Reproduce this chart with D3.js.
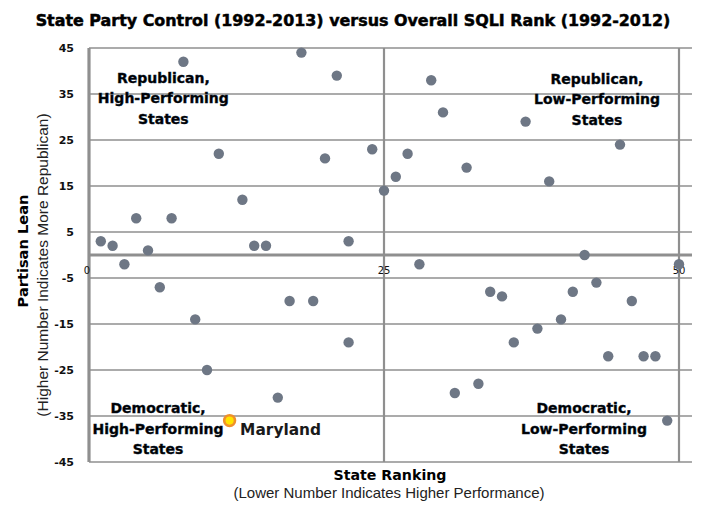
<!DOCTYPE html>
<html>
<head>
<meta charset="utf-8">
<script src="https://cdn.jsdelivr.net/npm/d3@7/dist/d3.min.js"></script>
<style>
  html, body { margin: 0; padding: 0; background: #fff; }
  svg { display: block; }
</style>
</head>
<body>
<svg id="chart" width="707" height="513"></svg>
<script>
// ---- Data ----
const ranks = [1,2,3,4,5,6,7,8,9,10,11,12,13,14,15,16,17,18,19,20,21,22,22,24,25,26,27,28,29,30,31,32,33,34,35,36,37,38,39,40,41,42,43,44,45,46,47,48,49,50];
const leans = [3,2,-2,8,1,-7,8,42,-14,-25,22,-36,12,2,2,-31,-10,44,-10,21,39,3,-19,23,14,17,22,-2,38,31,-30,19,-28,-8,-9,-19,29,-16,16,-14,-8,0,-6,-22,24,-10,-22,-22,-36,-2];
const highlightRank = 12;
const highlightLabel = "Maryland";
const yTicks = [45,35,25,15,5,-5,-15,-25,-35,-45];
const xTicks = [0,25,50];
const quadrantLabels = [
  { x: 6.3, y: 38.5, lines: ["Republican,", "High-Performing", "States"] },
  { x: 43.05, y: 38.3, lines: ["Republican,", "Low-Performing", "States"] },
  { x: 5.85, y: -33.3, lines: ["Democratic,", "High-Performing", "States"] },
  { x: 41.95, y: -33.3, lines: ["Democratic,", "Low-Performing", "States"] }
];
const title = "State Party Control (1992-2013) versus Overall SQLI Rank (1992-2012)";
const xTitle = "State Ranking";
const xSubtitle = "(Lower Number Indicates Higher Performance)";
const yTitle = "Partisan Lean";
const ySubtitle = "(Higher Number Indicates More Republican)";

// ---- Layout ----
const svg = d3.select("#chart");
const x = d3.scaleLinear().domain([0, 50]).range([89, 679]);
const y = d3.scaleLinear().domain([-45, 45]).range([462, 48]);
const gridRight = x(51.1);
const gridColor = "#8f8f8f";

const boldFont = "'DejaVu Sans', Verdana, sans-serif";
const regFont = "'Liberation Sans', Arial, sans-serif";

// horizontal gridlines
svg.append("g").selectAll("line").data(yTicks).join("line")
  .attr("x1", x(0)).attr("x2", gridRight)
  .attr("y1", d => y(d)).attr("y2", d => y(d))
  .attr("stroke", gridColor).attr("stroke-width", 1.3);

// vertical lines at 25 and 50
svg.append("g").selectAll("line").data([25, 50]).join("line")
  .attr("x1", d => x(d)).attr("x2", d => x(d))
  .attr("y1", y(45)).attr("y2", y(-45))
  .attr("stroke", gridColor).attr("stroke-width", 2.2);

// main axes lines
svg.append("line")
  .attr("x1", x(0)).attr("x2", x(0)).attr("y1", y(45)).attr("y2", y(-45))
  .attr("stroke", gridColor).attr("stroke-width", 3.2);
svg.append("line")
  .attr("x1", x(0)).attr("x2", gridRight).attr("y1", y(0)).attr("y2", y(0))
  .attr("stroke", gridColor).attr("stroke-width", 3.2);

// y tick labels
svg.append("g").selectAll("text").data(yTicks).join("text")
  .attr("x", x(0) - 15).attr("y", d => y(d))
  .attr("dy", "0.36em")
  .attr("text-anchor", "end")
  .attr("font-family", boldFont).attr("font-weight", "bold")
  .attr("font-size", 11).attr("fill", "#111")
  .text(d => d);

// x tick labels
svg.append("g").selectAll("text").data(xTicks).join("text")
  .attr("x", d => x(d) - (d === 0 ? 2 : 0)).attr("y", y(0) + 19)
  .attr("text-anchor", "middle")
  .attr("font-family", boldFont)
  .attr("font-size", 10).attr("fill", "#111")
  .text(d => d);

// points
const data = ranks.map((r, i) => ({ rank: r, lean: leans[i], hi: r === highlightRank && leans[i] === -36 }));
svg.append("g").selectAll("circle").data(data.filter(d => !d.hi)).join("circle")
  .attr("cx", d => x(d.rank)).attr("cy", d => y(d.lean))
  .attr("r", 5.2).attr("fill", "#6e7785");

const hi = data.find(d => d.hi);
svg.append("circle").attr("cx", x(hi.rank) - 1).attr("cy", y(hi.lean))
  .attr("r", 5.4).attr("fill", "#ffe400").attr("stroke", "#f0902a").attr("stroke-width", 2.6);
svg.append("text")
  .attr("x", x(hi.rank) + 9.5).attr("y", y(hi.lean) + 14.5)
  .attr("font-family", boldFont).attr("font-weight", "bold")
  .attr("font-size", 15.4).attr("fill", "#1a1a1a")
  .text(highlightLabel);

// quadrant labels
quadrantLabels.forEach(q => {
  const t = svg.append("text")
    .attr("text-anchor", "middle")
    .attr("font-family", boldFont).attr("font-weight", "bold")
    .attr("font-size", 14).attr("fill", "#000")
    .attr("stroke", "#0a1a30").attr("stroke-width", 0.4);
  q.lines.forEach((ln, i) => {
    t.append("tspan").attr("x", x(q.x)).attr("y", y(q.y) + i * 20.5 + 5).text(ln);
  });
});

// title (fit to target width)
const tt = svg.append("text")
  .attr("x", 353).attr("y", 26)
  .attr("text-anchor", "middle")
  .attr("font-family", boldFont).attr("font-weight", "bold")
  .attr("font-size", 15).attr("fill", "#000")
  .attr("stroke", "#000").attr("stroke-width", 0.5)
  .text(title);
const tw = tt.node().getComputedTextLength();
tt.attr("font-size", 15 * 635 / tw);

// x axis titles
svg.append("text")
  .attr("x", 390).attr("y", 480)
  .attr("text-anchor", "middle")
  .attr("font-family", boldFont).attr("font-weight", "bold")
  .attr("font-size", 14.2).attr("fill", "#000")
  .text(xTitle);
svg.append("text")
  .attr("x", 389).attr("y", 498)
  .attr("text-anchor", "middle")
  .attr("font-family", regFont)
  .attr("font-size", 15).attr("fill", "#222")
  .text(xSubtitle);

// y axis titles
svg.append("text")
  .attr("transform", `translate(28, 251) rotate(-90)`)
  .attr("text-anchor", "middle")
  .attr("font-family", boldFont).attr("font-weight", "bold")
  .attr("font-size", 14.6).attr("fill", "#000")
  .text(yTitle);
svg.append("text")
  .attr("transform", `translate(48, 265) rotate(-90)`)
  .attr("text-anchor", "middle")
  .attr("font-family", regFont)
  .attr("font-size", 15.5).attr("fill", "#222")
  .text(ySubtitle);
</script>
</body>
</html>
